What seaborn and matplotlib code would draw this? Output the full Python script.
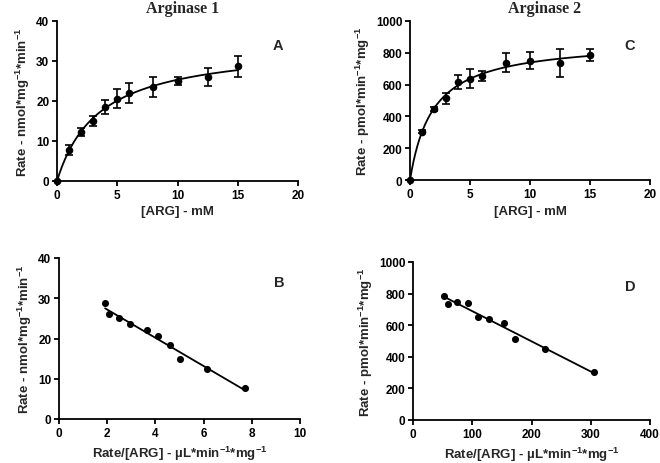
import numpy as np
import seaborn as sns
import matplotlib.pyplot as plt

# substrate concentrations (mM)
arg_mM = [0, 1, 2, 3, 4, 5, 6, 8, 10, 12.5, 15]

# Arginase 1 rates (nmol/mg/min) and SEM
rate1 = [0, 7.7, 12.3, 15.0, 18.5, 20.6, 22.0, 23.5, 25.0, 26.0, 28.7]
err1 = [0, 1.2, 1.0, 1.2, 1.8, 2.3, 2.5, 2.4, 1.1, 2.2, 2.6]

# Arginase 2 rates (pmol/min/mg) and SEM
rate2 = [0, 305, 447, 515, 615, 638, 655, 738, 750, 735, 787]
err2 = [0, 8, 10, 35, 45, 60, 30, 60, 55, 90, 40]

sns.set_style("ticks")
plt.rcParams["font.family"] = ["Liberation Sans", "DejaVu Sans"]
plt.rcParams["font.weight"] = "bold"
plt.rcParams["mathtext.default"] = "regular"
plt.rcParams["axes.linewidth"] = 1.3
plt.rcParams["xtick.major.width"] = 1.3
plt.rcParams["ytick.major.width"] = 1.3
plt.rcParams["xtick.major.size"] = 3.5
plt.rcParams["ytick.major.size"] = 3.5
plt.rcParams["xtick.major.pad"] = 2.5
plt.rcParams["ytick.major.pad"] = 2
plt.rcParams["axes.edgecolor"] = "black"
plt.rcParams["xtick.color"] = "black"
plt.rcParams["ytick.color"] = "black"

W, H = 660, 464
fig = plt.figure(figsize=(6.6, 4.64), dpi=100)


def box(l, t, r, b):
    return [l / W, 1 - b / H, (r - l) / W, (b - t) / H]


axA = fig.add_axes(box(57, 22, 298, 182))
axC = fig.add_axes(box(410, 22, 650, 181))
axB = fig.add_axes(box(59, 259, 300, 420))
axD = fig.add_axes(box(413, 263, 650, 421))

S = np.array(arg_mM, dtype=float)


def panel_pair(ax_mm, ax_eh, rate, err, ylabel, ymax, ystep, xmax_eh, xstep_eh, letter1, letter2):
    v = np.array(rate, dtype=float)
    # Eadie-Hofstee: v vs v/[S]
    ratio = v[1:] / S[1:]
    sns.regplot(x=ratio, y=v[1:], ax=ax_eh, ci=None, color="black",
                scatter_kws={"s": 26, "alpha": 1, "linewidths": 0},
                line_kws={"lw": 1.3})
    slope, intercept = np.polyfit(ratio, v[1:], 1)
    km, vmax = -slope, intercept

    # Michaelis-Menten fit curve from the same parameters
    xs = np.linspace(0, S.max(), 300)
    sns.lineplot(x=xs, y=vmax * xs / (km + xs), ax=ax_mm, color="black", lw=1.3)
    ax_mm.errorbar(S, v, yerr=err, fmt="none", ecolor="black", elinewidth=1.2,
                   capsize=3, capthick=1.2, clip_on=False)
    sns.scatterplot(x=S, y=v, ax=ax_mm, color="black", s=30, linewidth=0,
                    clip_on=False, zorder=5)

    ax_mm.set_xlim(0, 20)
    ax_mm.set_xticks(np.arange(0, 21, 5))
    ax_mm.set_ylim(0, ymax)
    ax_mm.set_yticks(np.arange(0, ymax + 1, ystep))
    ax_mm.set_xlabel("[ARG] - mM", fontsize=9.5, fontweight="bold", labelpad=3)
    ax_mm.set_ylabel(ylabel, fontsize=9.5, fontweight="bold", labelpad=3)

    ax_eh.set_xlim(0, xmax_eh)
    ax_eh.set_xticks(np.arange(0, xmax_eh + 1, xstep_eh))
    ax_eh.set_ylim(0, ymax)
    ax_eh.set_yticks(np.arange(0, ymax + 1, ystep))
    ax_eh.set_xlabel(r"Rate/[ARG] - µL*min$^{-1}$*mg$^{-1}$", fontsize=9.5,
                     fontweight="bold", labelpad=3)
    ax_eh.set_ylabel(ylabel, fontsize=9.5, fontweight="bold", labelpad=3)

    for ax, letter in ((ax_mm, letter1), (ax_eh, letter2)):
        sns.despine(ax=ax)
        ax.tick_params(labelsize=8.5)
        for lab in ax.get_xticklabels() + ax.get_yticklabels():
            lab.set_fontweight("bold")
        ax.text(0.915, 0.85, letter, transform=ax.transAxes, fontsize=10.5,
                fontweight="bold", ha="center", va="center")


panel_pair(axA, axB, rate1, err1, r"Rate - nmol*mg$^{-1}$*min$^{-1}$",
           40, 10, 10, 2, "A", "B")
panel_pair(axC, axD, rate2, err2, r"Rate - pmol*min$^{-1}$*mg$^{-1}$",
           1000, 200, 400, 100, "C", "D")

fig.text(183 / W, 1 - 9 / H, "Arginase 1", family="Liberation Serif",
         fontsize=11.5, fontweight="bold", ha="center", va="center")
fig.text(545 / W, 1 - 9 / H, "Arginase 2", family="Liberation Serif",
         fontsize=11.5, fontweight="bold", ha="center", va="center")

fig.savefig("out.png", dpi=100)
